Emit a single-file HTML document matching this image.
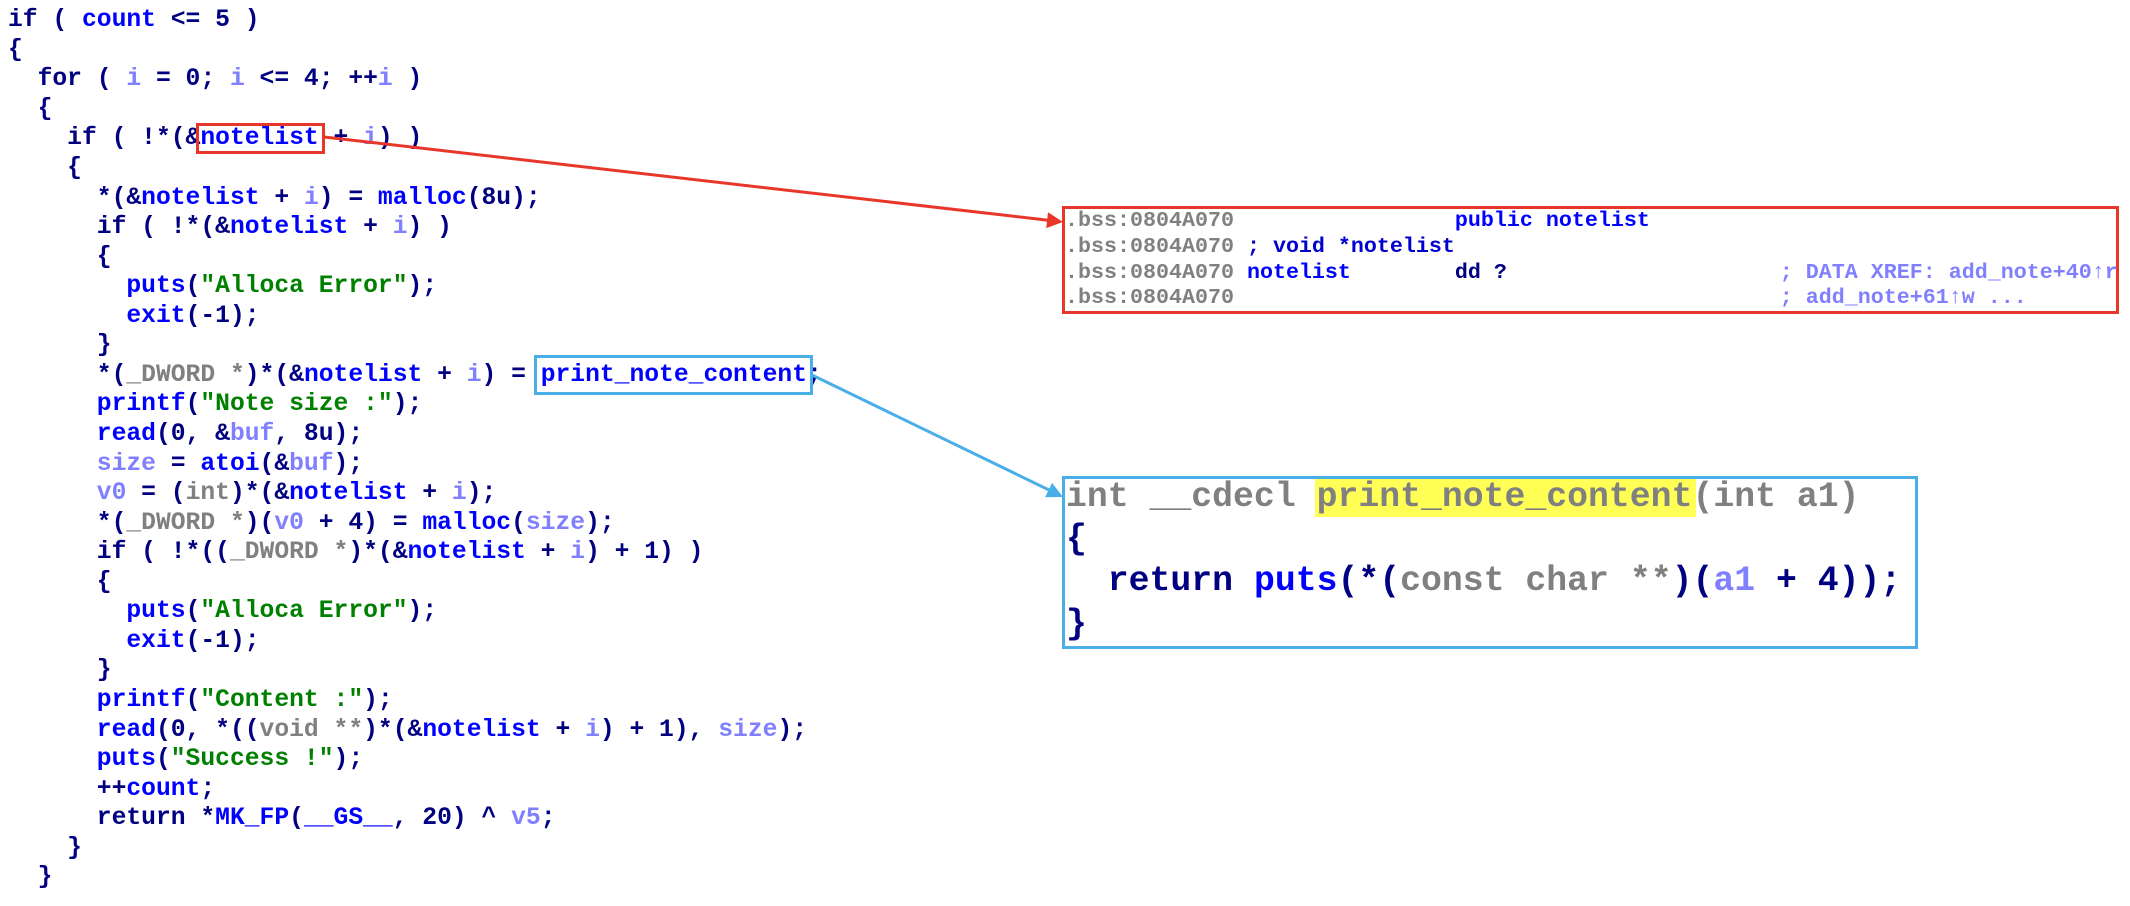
<!DOCTYPE html>
<html>
<head>
<meta charset="utf-8">
<style>
html,body{margin:0;padding:0;background:#fff;}
body{width:2130px;height:906px;position:relative;overflow:hidden;}
.code div{position:absolute;left:8px;white-space:pre;font-family:"Liberation Mono",monospace;font-weight:bold;font-size:24.67px;line-height:29.56px;color:#000080;}
.n{color:#000080}.b{color:#0000ff}.p{color:#8080ff}.g{color:#808080}.s{color:#008000}
.box{position:absolute;box-sizing:border-box;}
.rb{border:3px solid #e8372a;}
.bb{border:3px solid #4aaee8;}
.bss div{position:absolute;left:1065px;white-space:pre;font-family:"Liberation Mono",monospace;font-weight:bold;font-size:21.67px;line-height:25.8px;}
.fn div{position:absolute;left:1066px;white-space:pre;font-family:"Liberation Mono",monospace;font-weight:bold;font-size:34.8px;line-height:42.4px;color:#000080;}
</style>
</head>
<body>
<div class="code">
<div style="top:6.1px">if ( <span class="b">count</span> &lt;= 5 )</div>
<div style="top:35.7px">{</div>
<div style="top:65.2px">  for ( <span class="p">i</span> = 0; <span class="p">i</span> &lt;= 4; ++<span class="p">i</span> )</div>
<div style="top:94.8px">  {</div>
<div style="top:124.3px">    if ( !*(&amp;<span class="b">notelist</span> + <span class="p">i</span>) )</div>
<div style="top:153.9px">    {</div>
<div style="top:183.5px">      *(&amp;<span class="b">notelist</span> + <span class="p">i</span>) = <span class="b">malloc</span>(8u);</div>
<div style="top:213.0px">      if ( !*(&amp;<span class="b">notelist</span> + <span class="p">i</span>) )</div>
<div style="top:242.6px">      {</div>
<div style="top:272.1px">        <span class="b">puts</span>(<span class="s">"Alloca Error"</span>);</div>
<div style="top:301.7px">        <span class="b">exit</span>(-1);</div>
<div style="top:331.3px">      }</div>
<div style="top:360.8px">      *(<span class="g">_DWORD *</span>)*(&amp;<span class="b">notelist</span> + <span class="p">i</span>) = <span class="b">print_note_content</span>;</div>
<div style="top:390.4px">      <span class="b">printf</span>(<span class="s">"Note size :"</span>);</div>
<div style="top:419.9px">      <span class="b">read</span>(0, &amp;<span class="p">buf</span>, 8u);</div>
<div style="top:449.5px">      <span class="p">size</span> = <span class="b">atoi</span>(&amp;<span class="p">buf</span>);</div>
<div style="top:479.1px">      <span class="p">v0</span> = (<span class="g">int</span>)*(&amp;<span class="b">notelist</span> + <span class="p">i</span>);</div>
<div style="top:508.6px">      *(<span class="g">_DWORD *</span>)(<span class="p">v0</span> + 4) = <span class="b">malloc</span>(<span class="p">size</span>);</div>
<div style="top:538.2px">      if ( !*((<span class="g">_DWORD *</span>)*(&amp;<span class="b">notelist</span> + <span class="p">i</span>) + 1) )</div>
<div style="top:567.7px">      {</div>
<div style="top:597.3px">        <span class="b">puts</span>(<span class="s">"Alloca Error"</span>);</div>
<div style="top:626.9px">        <span class="b">exit</span>(-1);</div>
<div style="top:656.4px">      }</div>
<div style="top:686.0px">      <span class="b">printf</span>(<span class="s">"Content :"</span>);</div>
<div style="top:715.5px">      <span class="b">read</span>(0, *((<span class="g">void **</span>)*(&amp;<span class="b">notelist</span> + <span class="p">i</span>) + 1), <span class="p">size</span>);</div>
<div style="top:745.1px">      <span class="b">puts</span>(<span class="s">"Success !"</span>);</div>
<div style="top:774.7px">      ++<span class="b">count</span>;</div>
<div style="top:804.2px">      return *<span class="b">MK_FP</span>(<span class="b">__GS__</span>, 20) ^ <span class="p">v5</span>;</div>
<div style="top:833.8px">    }</div>
<div style="top:863.3px">  }</div>
</div>

<!-- small highlight boxes -->
<div class="box rb" style="left:196px;top:123px;width:129px;height:31px;"></div>
<div class="box bb" style="left:534px;top:355px;width:279px;height:40px;"></div>

<!-- big red box -->
<div class="box rb" style="left:1062px;top:206px;width:1057px;height:108px;"></div>
<div class="bss">
<div style="top:208px"><span class="g">.bss:0804A070</span>                 <span class="b">public notelist</span></div>
<div style="top:233.8px"><span class="g">.bss:0804A070</span> <span style="color:#0000d0">; void *notelist</span></div>
<div style="top:259.6px"><span class="g">.bss:0804A070</span> <span class="b">notelist</span>        <span class="n">dd ?</span>                     <span class="p">; DATA XREF: add_note+40↑r</span></div>
<div style="top:285.4px"><span class="g">.bss:0804A070</span>                                          <span class="p">; add_note+61↑w ...</span></div>
</div>

<!-- big blue box -->
<div class="box" style="left:1315px;top:478px;width:381px;height:39px;background:#ffff55;"></div>
<div class="box bb" style="left:1062px;top:476px;width:856px;height:173px;"></div>
<div class="fn">
<div style="top:476.6px"><span class="g">int __cdecl print_note_content(int a1)</span></div>
<div style="top:519.0px">{</div>
<div style="top:561.4px">  return <span class="b">puts</span>(*(<span class="g">const char **</span>)(<span class="p">a1</span> + 4));</div>
<div style="top:603.8px">}</div>
</div>

<!-- connectors -->
<svg width="2130" height="906" style="position:absolute;left:0;top:0;" xmlns="http://www.w3.org/2000/svg">
<line x1="324" y1="137" x2="1048" y2="220.2" stroke="#e8372a" stroke-width="3"/>
<polygon points="1063,222 1046.2,228.1 1048,212.2" fill="#e8372a"/>
<line x1="812" y1="375" x2="1049" y2="490" stroke="#4aaee8" stroke-width="3"/>
<polygon points="1063,497 1045.1,497.3 1052,482.9" fill="#4aaee8"/>
</svg>
</body>
</html>
